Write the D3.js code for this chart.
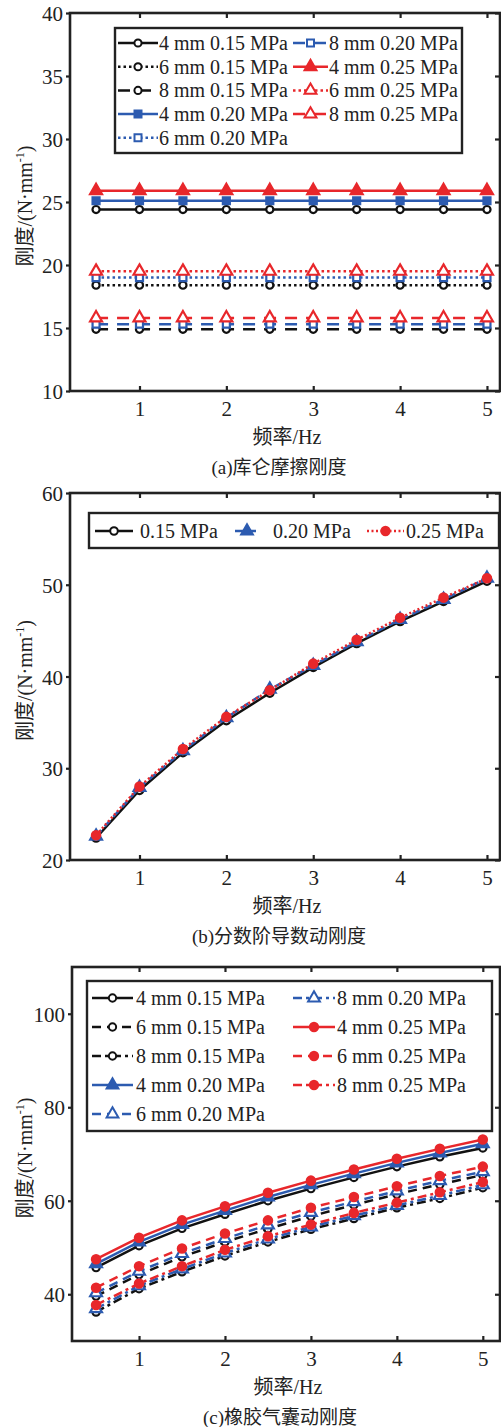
<!DOCTYPE html>
<html>
<head>
    <meta charset="utf-8" />
    <title>刚度-频率曲线</title>
    <script src="https://d3js.org/d3.v7.min.js"></script>
    <style>
        body { margin: 0; background: #fff; }
        text { font-family: "Liberation Serif", "Times New Roman", "Noto Sans CJK SC", serif; fill: #222; }
    </style>
</head>
<body>
<div id="vis"></div>
<script>
    var width = 501,
        height = 1427;

    // shared x values / ticks
    var freq = [0.5, 1, 1.5, 2, 2.5, 3, 3.5, 4, 4.5, 5];
    var xTickValues = [1, 2, 3, 4, 5];

    // (a) 库仑摩擦刚度
    var aYTicks = [10, 15, 20, 25, 30, 35, 40];
    var aNames = ["4 mm 0.15 MPa", "6 mm 0.15 MPa", "8 mm 0.15 MPa", "4 mm 0.20 MPa", "6 mm 0.20 MPa",
                  "8 mm 0.20 MPa", "4 mm 0.25 MPa", "6 mm 0.25 MPa", "8 mm 0.25 MPa"];
    var a4_015 = [24.4, 24.4, 24.4, 24.4, 24.4, 24.4, 24.4, 24.4, 24.4, 24.4];
    var a6_015 = [18.4, 18.4, 18.4, 18.4, 18.4, 18.4, 18.4, 18.4, 18.4, 18.4];
    var a8_015 = [14.9, 14.9, 14.9, 14.9, 14.9, 14.9, 14.9, 14.9, 14.9, 14.9];
    var a4_020 = [25.1, 25.1, 25.1, 25.1, 25.1, 25.1, 25.1, 25.1, 25.1, 25.1];
    var a6_020 = [19.0, 19.0, 19.0, 19.0, 19.0, 19.0, 19.0, 19.0, 19.0, 19.0];
    var a8_020 = [15.3, 15.3, 15.3, 15.3, 15.3, 15.3, 15.3, 15.3, 15.3, 15.3];
    var a4_025 = [25.9, 25.9, 25.9, 25.9, 25.9, 25.9, 25.9, 25.9, 25.9, 25.9];
    var a6_025 = [19.5, 19.5, 19.5, 19.5, 19.5, 19.5, 19.5, 19.5, 19.5, 19.5];
    var a8_025 = [15.8, 15.8, 15.8, 15.8, 15.8, 15.8, 15.8, 15.8, 15.8, 15.8];

    // (b) 分数阶导数动刚度
    var bYTicks = [20, 30, 40, 50, 60];
    var bNames = ["0.15 MPa", "0.20 MPa", "0.25 MPa"];
    var b015 = [22.4, 27.6, 31.7, 35.2, 38.2, 41.0, 43.6, 46.0, 48.2, 50.4];
    var b020 = [22.6, 27.9, 31.9, 35.5, 38.6, 41.2, 43.8, 46.2, 48.4, 50.7];
    var b025 = [22.7, 28.0, 32.1, 35.6, 38.5, 41.4, 44.0, 46.4, 48.6, 50.7];

    // (c) 橡胶气囊动刚度
    var cYTicks = [40, 60, 80, 100];
    var cNames = aNames;
    var c4_015 = [45.7, 50.4, 54.1, 57.1, 60.0, 62.6, 65.0, 67.3, 69.4, 71.3];
    var c6_015 = [39.6, 44.2, 48.0, 51.2, 54.0, 56.7, 59.1, 61.4, 63.5, 65.5];
    var c8_015 = [36.2, 41.2, 44.8, 48.2, 51.2, 53.9, 56.2, 58.5, 60.5, 62.8];
    var c4_020 = [46.5, 51.2, 54.9, 57.9, 60.8, 63.4, 65.8, 68.1, 70.2, 72.2];
    var c6_020 = [40.3, 44.9, 48.7, 51.9, 54.8, 57.5, 59.8, 62.1, 64.3, 66.2];
    var c8_020 = [36.9, 41.8, 45.4, 48.8, 51.8, 54.4, 56.8, 59.0, 61.1, 63.4];
    var c4_025 = [47.5, 52.1, 55.8, 58.8, 61.7, 64.3, 66.7, 69.0, 71.1, 73.1];
    var c6_025 = [41.4, 46.0, 49.8, 53.0, 55.8, 58.5, 60.8, 63.1, 65.3, 67.3];
    var c8_025 = [37.7, 42.3, 46.0, 49.5, 52.4, 54.9, 57.4, 59.6, 61.8, 64.0];

    var BLACK = "#111",
        BLUE = "#2c5bb0",
        RED = "#e8272b";
    var fontSize = 21;

    var svg = d3.select("#vis").append("svg")
        .attr("width", width)
        .attr("height", height);

    // series: values + look
    var aSeries = [
        { name: aNames[0], v: a4_015, color: BLACK, dash: null, sym: d3.symbolCircle, size: 40, fill: "#fff" },
        { name: aNames[1], v: a6_015, color: BLACK, dash: "2.5,3", sym: d3.symbolCircle, size: 40, fill: "#fff" },
        { name: aNames[2], v: a8_015, color: BLACK, dash: "12,9", sym: d3.symbolCircle, size: 40, fill: "#fff" },
        { name: aNames[3], v: a4_020, color: BLUE, dash: null, sym: d3.symbolSquare, size: 49, fill: BLUE },
        { name: aNames[4], v: a6_020, color: BLUE, dash: "2.5,3", sym: d3.symbolSquare, size: 49, fill: "#fff" },
        { name: aNames[5], v: a8_020, color: BLUE, dash: "12,9", sym: d3.symbolSquare, size: 49, fill: "#fff" },
        { name: aNames[6], v: a4_025, color: RED, dash: null, sym: d3.symbolTriangle, size: 62, fill: RED },
        { name: aNames[7], v: a6_025, color: RED, dash: "2.5,3", sym: d3.symbolTriangle, size: 62, fill: "#fff" },
        { name: aNames[8], v: a8_025, color: RED, dash: "12,9", sym: d3.symbolTriangle, size: 62, fill: "#fff" }
    ];

    var bSeries = [
        { name: bNames[0], v: b015, color: BLACK, dash: null, sym: d3.symbolCircle, size: 45, fill: "#fff" },
        { name: bNames[1], v: b020, color: BLUE, dash: "8,5", sym: d3.symbolTriangle, size: 60, fill: BLUE },
        { name: bNames[2], v: b025, color: RED, dash: "2,2.5", sym: d3.symbolCircle, size: 55, fill: RED }
    ];

    var cSeries = [
        { name: cNames[0], v: c4_015, color: BLACK, dash: null, sym: d3.symbolCircle, size: 42, fill: "#fff" },
        { name: cNames[1], v: c6_015, color: BLACK, dash: "9,6", sym: d3.symbolCircle, size: 42, fill: "#fff" },
        { name: cNames[2], v: c8_015, color: BLACK, dash: "9,4,3,4", sym: d3.symbolCircle, size: 42, fill: "#fff" },
        { name: cNames[3], v: c4_020, color: BLUE, dash: null, sym: d3.symbolTriangle, size: 60, fill: BLUE },
        { name: cNames[4], v: c6_020, color: BLUE, dash: "9,6", sym: d3.symbolTriangle, size: 60, fill: "#fff" },
        { name: cNames[5], v: c8_020, color: BLUE, dash: "9,4,3,4", sym: d3.symbolTriangle, size: 60, fill: "#fff" },
        { name: cNames[6], v: c4_025, color: RED, dash: null, sym: d3.symbolCircle, size: 55, fill: RED },
        { name: cNames[7], v: c6_025, color: RED, dash: "9,6", sym: d3.symbolCircle, size: 55, fill: RED },
        { name: cNames[8], v: c8_025, color: RED, dash: "9,4,3,4", sym: d3.symbolCircle, size: 55, fill: RED }
    ];

    var panels = [
        {
            series: aSeries, yTicks: aYTicks,
            xDomain: [0.2, 5.15], xRange: [70, 500],
            yDomain: [10, 40], yRange: [391, 13],
            caption: "(a)库仑摩擦刚度",
            legend: { x: 115, y: 28, w: 347, h: 125, rowY: 43, rowStep: 23.7, rows: 5,
                      cols: [{ s0: 118, s1: 158, t: 159 }, { s0: 293, s1: 328, t: 329 }] }
        },
        {
            series: bSeries, yTicks: bYTicks,
            xDomain: [0.2, 5.15], xRange: [70, 500],
            yDomain: [20, 60], yRange: [860, 493],
            caption: "(b)分数阶导数动刚度",
            legend: { x: 89, y: 513, w: 410, h: 35, rowY: 531, rowStep: 0, rows: 1,
                      cols: [{ s0: 95, s1: 133, t: 140 }, { s0: 235, s1: 259, t: 273 }, { s0: 367, s1: 404, t: 406 }] }
        },
        {
            series: cSeries, yTicks: cYTicks,
            xDomain: [0.22, 5.2], xRange: [72, 500],
            yDomain: [30, 110], yRange: [1341, 967],
            caption: "(c)橡胶气囊动刚度",
            legend: { x: 87, y: 981, w: 405, h: 150, rowY: 998, rowStep: 29, rows: 5,
                      cols: [{ s0: 92, s1: 133, t: 136 }, { s0: 293, s1: 335, t: 337 }] }
        }
    ];

    panels.forEach(drawPanel);

    function drawPanel(p) {
        var x = d3.scaleLinear().domain(p.xDomain).range(p.xRange);
        var y = d3.scaleLinear().domain(p.yDomain).range(p.yRange);
        var g = svg.append("g");
        var left = p.xRange[0], right = p.xRange[1],
            top = p.yRange[1], bottom = p.yRange[0];

        // ticks on all four sides
        g.append("g")
            .attr("transform", "translate(0," + bottom + ")")
            .call(d3.axisBottom(x).tickValues(xTickValues).tickFormat(d3.format("d"))
                .tickSize(-5).tickPadding(10));
        g.append("g")
            .attr("transform", "translate(0," + top + ")")
            .call(d3.axisTop(x).tickValues(xTickValues).tickSize(-5).tickFormat(""));
        var leftAxis = g.append("g")
            .attr("transform", "translate(" + left + ",0)")
            .call(d3.axisLeft(y).tickValues(p.yTicks).tickFormat(d3.format("d"))
                .tickSize(4).tickPadding(3));
        g.append("g")
            .attr("transform", "translate(" + right + ",0)")
            .call(d3.axisRight(y).tickValues(p.yTicks).tickSize(-5).tickFormat(""));

        g.selectAll(".domain").remove();
        g.selectAll(".tick line").attr("stroke", "#222").attr("stroke-width", 2.2);
        g.selectAll(".tick text")
            .attr("font-family", null)
            .attr("font-size", fontSize)
            .attr("fill", "#222");
        leftAxis.selectAll(".tick text").attr("dy", "0.36em");

        // curves
        var line = d3.line()
            .x(function(d, i) { return x(freq[i]); })
            .y(function(d) { return y(d); });

        p.series.forEach(function(s) {
            g.append("path")
                .datum(s.v)
                .attr("d", line)
                .attr("fill", "none")
                .attr("stroke", s.color)
                .attr("stroke-width", 2.5)
                .attr("stroke-dasharray", s.dash);

            g.selectAll(null)
                .data(s.v)
                .enter().append("path")
                .attr("transform", function(d, i) {
                    return "translate(" + x(freq[i]) + "," + y(d) + ")";
                })
                .attr("d", d3.symbol().type(s.sym).size(s.size))
                .attr("fill", s.fill)
                .attr("stroke", s.color)
                .attr("stroke-width", 2.2);
        });

        // frame
        g.append("rect")
            .attr("x", left)
            .attr("y", top)
            .attr("width", right - left)
            .attr("height", bottom - top)
            .attr("fill", "none")
            .attr("stroke", "#222")
            .attr("stroke-width", 2.6);

        // legend
        var L = p.legend;
        var lg = g.append("g").attr("class", "legend");
        lg.append("rect")
            .attr("x", L.x)
            .attr("y", L.y)
            .attr("width", L.w)
            .attr("height", L.h)
            .attr("fill", "#fff")
            .attr("stroke", "#222")
            .attr("stroke-width", 2.4);

        p.series.forEach(function(s, i) {
            var col = L.cols[Math.floor(i / L.rows)];
            var ry = L.rowY + (i % L.rows) * L.rowStep;
            lg.append("line")
                .attr("x1", col.s0)
                .attr("x2", col.s1)
                .attr("y1", ry)
                .attr("y2", ry)
                .attr("stroke", s.color)
                .attr("stroke-width", 2.5)
                .attr("stroke-dasharray", s.dash);
            lg.append("path")
                .attr("transform", "translate(" + ((col.s0 + col.s1) / 2) + "," + ry + ")")
                .attr("d", d3.symbol().type(s.sym).size(s.size))
                .attr("fill", s.fill)
                .attr("stroke", s.color)
                .attr("stroke-width", 2);
            lg.append("text")
                .attr("x", col.t)
                .attr("y", ry)
                .attr("dy", "0.35em")
                .attr("font-size", 20)
                .text(s.name);
        });

        // axis titles + caption
        var mid = (left + right) / 2;
        g.append("text")
            .attr("x", mid + 2)
            .attr("y", bottom + 53)
            .attr("text-anchor", "middle")
            .attr("font-size", 20)
            .text("频率/Hz");

        g.append("text")
            .attr("x", mid - 6)
            .attr("y", bottom + 83)
            .attr("text-anchor", "middle")
            .attr("font-size", 19)
            .text(p.caption);

        var yl = g.append("text")
            .attr("transform", "translate(32," + ((top + bottom) / 2 + 4) + ") rotate(-90)")
            .attr("text-anchor", "middle")
            .attr("font-size", 20);
        yl.append("tspan").text("刚度/(N·mm");
        yl.append("tspan").attr("font-size", 12).attr("dy", -8).text("-1");
        yl.append("tspan").attr("dy", 8).text(")");
    }
</script>
</body>
</html>
